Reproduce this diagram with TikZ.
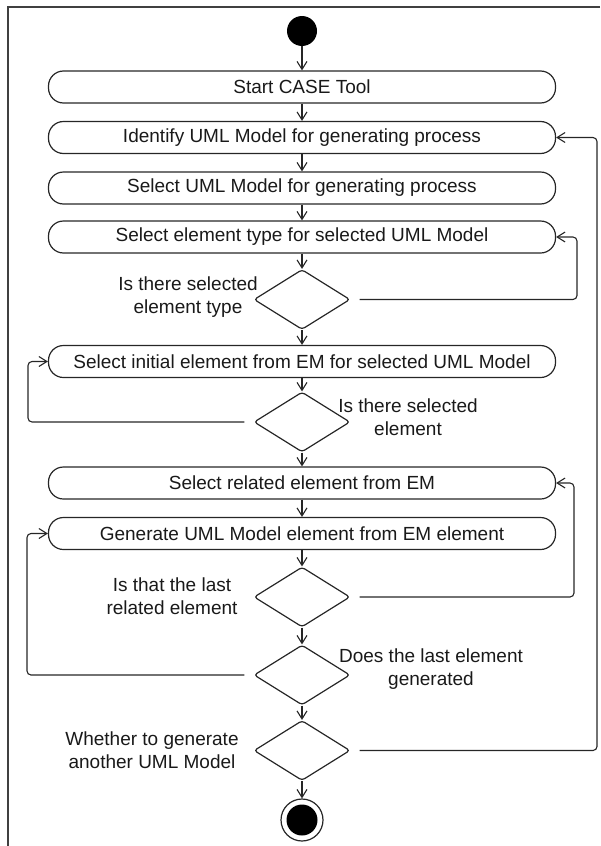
\documentclass[tikz,border=0pt]{standalone}
\usepackage{fontspec}
\setmainfont{Liberation Sans}
\usetikzlibrary{arrows.meta,shapes.geometric}
\begin{document}
\begin{tikzpicture}[x=1pt,y=-1pt,
  txt/.style={font=\fontsize{19}{23}\selectfont, text=black!90},
  action/.style={txt, draw=black!85, line width=1.2pt, rectangle, rounded corners=15pt,
    minimum width=507pt, minimum height=32pt, inner sep=0pt},
  choice/.style={draw=black!85, line width=1.2pt, diamond, minimum width=96pt,
    minimum height=60pt, inner sep=0pt, rounded corners=3pt},
  note/.style={txt, align=center, inner sep=0pt},
  flow/.style={draw=black!85, line width=1.1pt, -{Straight Barb[length=8pt,width=10pt]}},
  back/.style={flow, rounded corners=4pt}
]
\useasboundingbox (0,0) rectangle (600,846);

% diagram frame (top and left edges)
\draw[line width=2pt, black!75] (600,7) -- (8,7) -- (8,846);

% initial and final states
\node[circle, fill=black, minimum size=30pt, inner sep=0pt] (start) at (302,31) {};
\node[circle, draw=black!85, line width=1.2pt, fill=white, minimum size=42pt, inner sep=0pt] (stop) at (302,820) {};
\node[circle, fill=black, minimum size=31pt, inner sep=0pt] (stopdot) at (302,820) {};

% actions
\node[action] (b1) at (302,87)    {Start CASE Tool};
\node[action] (b2) at (302,137.5) {Identify UML Model for generating process};
\node[action] (b3) at (302,188)   {Select UML Model for generating process};
\node[action] (b4) at (302,237)   {Select element type for selected UML Model};
\node[action] (b5) at (302,361.5) {Select initial element from EM for selected UML Model};
\node[action] (b6) at (302,483)   {Select related element from EM};
\node[action] (b7) at (302,533.5) {Generate UML Model element from EM element};

% decisions
\node[choice] (d1) at (302,299.5) {};
\node[choice] (d2) at (302,422)   {};
\node[choice] (d3) at (302,597)   {};
\node[choice] (d4) at (302,675)   {};
\node[choice] (d5) at (302,750.5) {};

% decision labels
\node[note] (l1) at (188,297.5) {Is there selected\\element type};
\node[note] (l2) at (408,417)   {Is there selected\\element};
\node[note] (l3) at (172,596.5) {Is that the last\\related element};
\node[note] (l4) at (431,669)   {Does the last element\\generated};
\node[note] (l5) at (152,750.5) {Whether to generate\\another UML Model};

% main flow
\draw[flow] (start) -- (b1);
\draw[flow] (b1) -- (b2);
\draw[flow] (b2) -- (b3);
\draw[flow] (b3) -- (b4);
\draw[flow] (b4) -- (d1);
\draw[flow] (d1) -- (b5);
\draw[flow] (b5) -- (d2);
\draw[flow] (d2) -- (b6);
\draw[flow] (b6) -- (b7);
\draw[flow] (b7) -- (d3);
\draw[flow] (d3) -- (d4);
\draw[flow] (d4) -- (d5);
\draw[flow] (d5) -- (stop);

% loop-back routes
\coordinate (r1) at (577,0);
\coordinate (r3) at (574,0);
\coordinate (r5) at (597,0);
\coordinate (q2) at (28,0);
\coordinate (q4) at (27,0);

\draw[back] ([xshift=9pt]d1.east) -- (r1 |- d1.east) -- (r1 |- b4.east) -- (b4.east);
\draw[back] ([xshift=-9pt]d2.west) -- (q2 |- d2.west) -- (q2 |- b5.west) -- (b5.west);
\draw[back] ([xshift=9pt]d3.east) -- (r3 |- d3.east) -- (r3 |- b6.east) -- (b6.east);
\draw[back] ([xshift=-9pt]d4.west) -- (q4 |- d4.west) -- (q4 |- b7.west) -- (b7.west);
\draw[back] ([xshift=9pt]d5.east) -- (r5 |- d5.east) -- (r5 |- b2.east) -- (b2.east);
\end{tikzpicture}
\end{document}
